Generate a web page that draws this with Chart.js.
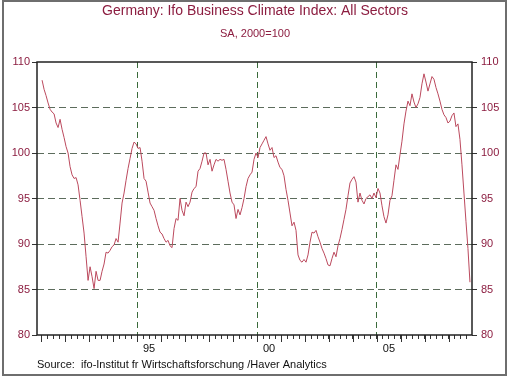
<!DOCTYPE html>
<html>
<head>
<meta charset="utf-8">
<title>Germany: Ifo Business Climate Index</title>
<script src="https://cdn.jsdelivr.net/npm/chart.js@4.4.1/dist/chart.umd.min.js"></script>
<style>
  html, body { margin: 0; padding: 0; background: #fff; }
  #wrap { width: 510px; height: 380px; }
</style>
</head>
<body>
<div id="wrap"><canvas id="ifoChart" width="510" height="380"></canvas></div>
<script>
// --- Data (monthly, Jan 1991 .. Nov 2008) ---
const firstYear = 1991;
const ifoIndex = [
    108.0, 107.0, 106.3, 105.5, 104.8, 104.5, 104.3, 103.3, 102.8, 103.7, 102.6, 101.7,
    100.7, 100.0, 98.5, 97.6, 97.2, 97.3, 96.5, 94.8, 93.0, 91.2, 88.6, 86.0,
    87.5, 86.4, 85.1, 87.0, 86.0, 86.0, 87.0, 87.8, 89.1, 89.0, 89.3, 89.7,
    89.9, 90.6, 90.2, 92.3, 94.5, 95.6, 97.0, 98.3, 99.4, 100.5, 101.2, 101.0,
    100.5, 100.6, 99.1, 97.2, 96.9, 95.7, 94.5, 94.1, 93.7, 92.8, 92.0, 91.3,
    91.1, 90.6, 90.2, 90.4, 89.8, 89.6, 91.7, 92.8, 92.6, 95.0, 93.7, 93.1,
    94.6, 94.1, 94.6, 95.7, 96.1, 96.3, 98.0, 98.3, 99.1, 100.0, 100.0, 98.7,
    99.3, 98.0, 98.7, 99.3, 99.1, 99.3, 99.2, 99.3, 98.2, 96.9, 95.6, 94.6,
    94.3, 92.8, 93.8, 93.2, 94.0, 95.0, 96.3, 97.2, 97.6, 97.9, 99.3, 100.0,
    99.5, 100.6, 101.0, 101.4, 101.8, 101.0, 100.3, 100.6, 99.5, 99.7, 99.0, 98.4,
    98.2, 97.5, 96.0, 94.8, 93.4, 92.0, 92.4, 91.5, 88.8, 88.2, 88.0, 88.3,
    88.0, 88.8, 90.2, 91.3, 91.2, 91.5, 90.8, 90.2, 89.5, 89.0, 88.4, 87.7,
    87.6, 88.4, 89.1, 88.6, 89.8, 90.6, 91.6, 92.7, 93.8, 95.3, 96.7, 97.1,
    97.4, 96.8, 94.6, 95.6, 94.8, 94.4, 95.0, 95.2, 95.4, 95.0, 95.6, 95.1,
    96.1, 95.6, 94.2, 93.0, 92.3, 93.2, 94.8, 95.3, 97.0, 98.7, 98.2, 99.8,
    101.3, 103.2, 104.6, 105.7, 105.2, 106.5, 105.6, 105.0, 105.4, 106.1, 107.6, 108.7,
    107.8, 106.8, 107.6, 108.4, 108.1, 107.2, 106.5, 105.7, 104.8, 104.2, 103.9, 103.3,
    103.5, 104.1, 104.4, 102.9, 103.2, 101.5, 98.7, 95.6, 92.5, 89.5, 85.8
];

// Axis ticks and labels
const yTickValues = [80, 85, 90, 95, 100, 105, 110];
const gridYears = [1995, 2000, 2005];
const labelYears = [1995.5, 2000.5, 2005.5];
const labelText = ['95', '00', '05'];

const lastYear = firstYear + Math.floor((ifoIndex.length - 1) / 12);
const quarterTicks = [];
for (let q = firstYear; q < lastYear + 1; q += 0.25) quarterTicks.push(q);

// plot month values at the middle of each month
const points = ifoIndex.map((v, i) => ({ x: firstYear + (i + 0.5) / 12, y: v }));

// --- Colours ---
const RED_TEXT = '#8c1d40';
const LINE_COLOR = '#bc4a5e';

Chart.defaults.font.family = "'Liberation Sans', Arial, sans-serif";
Chart.defaults.font.size = 11;

// frame round the picture, box round the plot, longer year ticks
const framePlugin = {
    id: 'frame',
    beforeDraw(chart) {
        const c = chart.ctx;
        c.save();
        c.fillStyle = '#fff';
        c.fillRect(0, 0, chart.width, chart.height);
        c.strokeStyle = '#6e6e6e';
        c.lineWidth = 2;
        c.strokeRect(3, 1, 503, 374);
        c.restore();
    },
    afterDraw(chart) {
        const { ctx: c, chartArea: a, scales } = chart;
        c.save();
        c.lineWidth = 1;
        c.strokeStyle = '#333';
        for (let yr = firstYear; yr <= lastYear; yr++) {
            const px = Math.round(scales.x.getPixelForValue(yr)) + 0.5;
            c.beginPath();
            c.moveTo(px, a.bottom);
            c.lineTo(px, a.bottom + 7);
            c.stroke();
        }
        c.strokeStyle = '#222';
        c.lineWidth = 1.5;
        c.strokeRect(a.left, a.top, a.right - a.left, a.bottom - a.top);
        c.restore();
    }
};

const yGrid = ctx => (ctx.tick.value > 80 && ctx.tick.value < 110) ? '#5c6c5c' : 'rgba(0,0,0,0)';

new Chart(document.getElementById('ifoChart'), {
    type: 'line',
    data: {
        datasets: [{
            label: 'Ifo Business Climate Index',
            data: points,
            borderColor: LINE_COLOR,
            borderWidth: 1,
            pointRadius: 0,
            tension: 0,
            fill: false
        }]
    },
    options: {
        responsive: false,
        animation: false,
        layout: { padding: { left: 5, right: 5, top: 0, bottom: 4 } },
        plugins: {
            legend: { display: false },
            tooltip: { enabled: false },
            title: {
                display: true,
                text: 'Germany: Ifo Business Climate Index: All Sectors',
                color: RED_TEXT,
                font: { size: 14, weight: 'normal' },
                padding: { top: 3, bottom: 3 }
            },
            subtitle: {
                display: true,
                text: 'SA, 2000=100',
                color: RED_TEXT,
                font: { size: 11 },
                padding: { top: 5, bottom: 21 }
            }
        },
        scales: {
            x: {
                type: 'linear',
                position: 'bottom',
                min: 1990.83,
                max: 2008.96,
                afterBuildTicks: s => { s.ticks = quarterTicks.map(v => ({ value: v })); },
                afterFit: s => { s.height = 41; },
                grid: {
                    drawOnChartArea: true,
                    drawTicks: true,
                    tickLength: 4,
                    color: ctx => gridYears.includes(ctx.tick.value) ? '#3b6a3b' : 'rgba(0,0,0,0)',
                    tickColor: '#333'
                },
                border: { display: false, dash: [6, 4] },
                ticks: {
                    autoSkip: false,
                    maxRotation: 0,
                    padding: 3,
                    color: '#111',
                    callback: v => {
                        const k = labelYears.indexOf(v);
                        return k >= 0 ? labelText[k] : '';
                    }
                },
                title: {
                    display: true,
                    text: 'Source:  ifo-Institut fr Wirtschaftsforschung /Haver Analytics',
                    align: 'start',
                    color: '#111',
                    font: { size: 11 },
                    padding: { top: 0, bottom: 4 }
                }
            },
            y: {
                position: 'left',
                min: 80,
                max: 110,
                afterBuildTicks: s => { s.ticks = yTickValues.map(v => ({ value: v })); },
                afterFit: s => { s.width = 32; },
                grid: { color: yGrid, tickColor: '#333', tickLength: 5 },
                border: { display: false, dash: [7, 4] },
                ticks: { color: RED_TEXT, padding: 2 }
            },
            y2: {
                position: 'right',
                min: 80,
                max: 110,
                afterBuildTicks: s => { s.ticks = yTickValues.map(v => ({ value: v })); },
                afterFit: s => { s.width = 33; },
                grid: { drawOnChartArea: false, tickColor: '#333', tickLength: 5 },
                border: { display: false },
                ticks: { color: RED_TEXT, padding: 4 }
            }
        }
    },
    plugins: [framePlugin]
});
</script>
</body>
</html>
